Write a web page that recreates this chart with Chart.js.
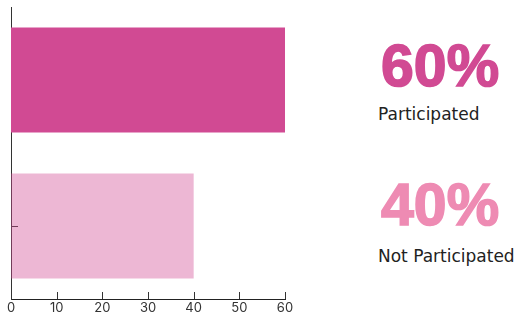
<!DOCTYPE html>
<html>
<head>
<meta charset="utf-8">
<script src="https://cdn.jsdelivr.net/npm/chart.js@4"></script>
<style>
  body { margin: 0; background: #fff; }
  #wrap { position: relative; width: 520px; height: 315px; }
  #chartBox { position: absolute; left: 0; top: 0; width: 300px; height: 315px; }
  .big { position: absolute; left: 381px; font-family: "Liberation Sans", Arial, sans-serif; font-weight: 700; font-size: 59px; line-height: 60px; white-space: nowrap; -webkit-text-stroke: 1.6px currentColor; }
  .lbl { position: absolute; left: 378px; font-family: "DejaVu Sans", sans-serif; font-size: 17px; line-height: 17px; color: #222; white-space: nowrap; }
</style>
</head>
<body>
<div id="wrap">
  <div id="chartBox"><canvas id="bars"></canvas></div>
  <div class="big" id="pct1" style="top:36px;"></div>
  <div class="lbl" id="name1" style="top:106px;"></div>
  <div class="big" id="pct2" style="top:175px;"></div>
  <div class="lbl" id="name2" style="top:248px;"></div>
</div>
<script>
const categories = ['Participated', 'Not Participated']
const values = [60, 40]
const xTicks = [0, 10, 20, 30, 40, 50, 60]
const barColors = ['#D14A93', 'rgba(209, 74, 147, 0.4)']
const textColors = ['#D14A93', '#EE8BB3']

document.getElementById('pct1').textContent = values[0] + '%'
document.getElementById('pct1').style.color = textColors[0]
document.getElementById('name1').textContent = categories[0]
document.getElementById('pct2').textContent = values[1] + '%'
document.getElementById('pct2').style.color = textColors[1]
document.getElementById('name2').textContent = categories[1]

// ticks pointing into the plot, drawn under the bars
const innerTicks = {
  id: 'innerTicks',
  beforeDatasetsDraw(chart) {
    const ctx = chart.ctx
    const x = chart.scales.x
    const y = chart.scales.y
    ctx.save()
    ctx.strokeStyle = '#333'
    ctx.lineWidth = 1
    ctx.beginPath()
    x.ticks.forEach((t, i) => {
      const px = Math.round(x.getPixelForTick(i)) + 0.5
      ctx.moveTo(px, x.top)
      ctx.lineTo(px, x.top - 7)
    })
    y.ticks.forEach((t, i) => {
      const py = Math.round(y.getPixelForTick(i)) + 0.5
      ctx.moveTo(y.right, py)
      ctx.lineTo(y.right + 7, py)
    })
    ctx.stroke()
    ctx.restore()
  }
}

let barChart = new Chart(document.getElementById('bars'), {
  type: 'bar',
  data: {
    labels: categories,
    datasets: [{
      data: values,
      backgroundColor: barColors,
      borderWidth: 0
    }]
  },
  options: {
    indexAxis: 'y',
    responsive: true,
    maintainAspectRatio: false,
    animation: false,
    layout: { padding: { left: 11, right: 15, top: 7, bottom: -3 } },
    plugins: { legend: { display: false }, tooltip: { enabled: false } },
    scales: {
      x: {
        min: 0,
        max: 60,
        afterBuildTicks: axis => { axis.ticks = xTicks.map(v => ({ value: v })) },
        grid: { display: false, drawTicks: false, tickLength: 0 },
        border: { display: true, color: '#222', width: 1 },
        ticks: { color: '#333', font: { family: 'Inter', size: 13, lineHeight: 1 }, padding: 3 }
      },
      y: {
        grid: { display: false, drawTicks: false, tickLength: 0 },
        border: { display: true, color: '#333', width: 1 },
        ticks: { display: false, padding: 0 }
      }
    }
  },
  plugins: [innerTicks]
})
</script>
</body>
</html>
